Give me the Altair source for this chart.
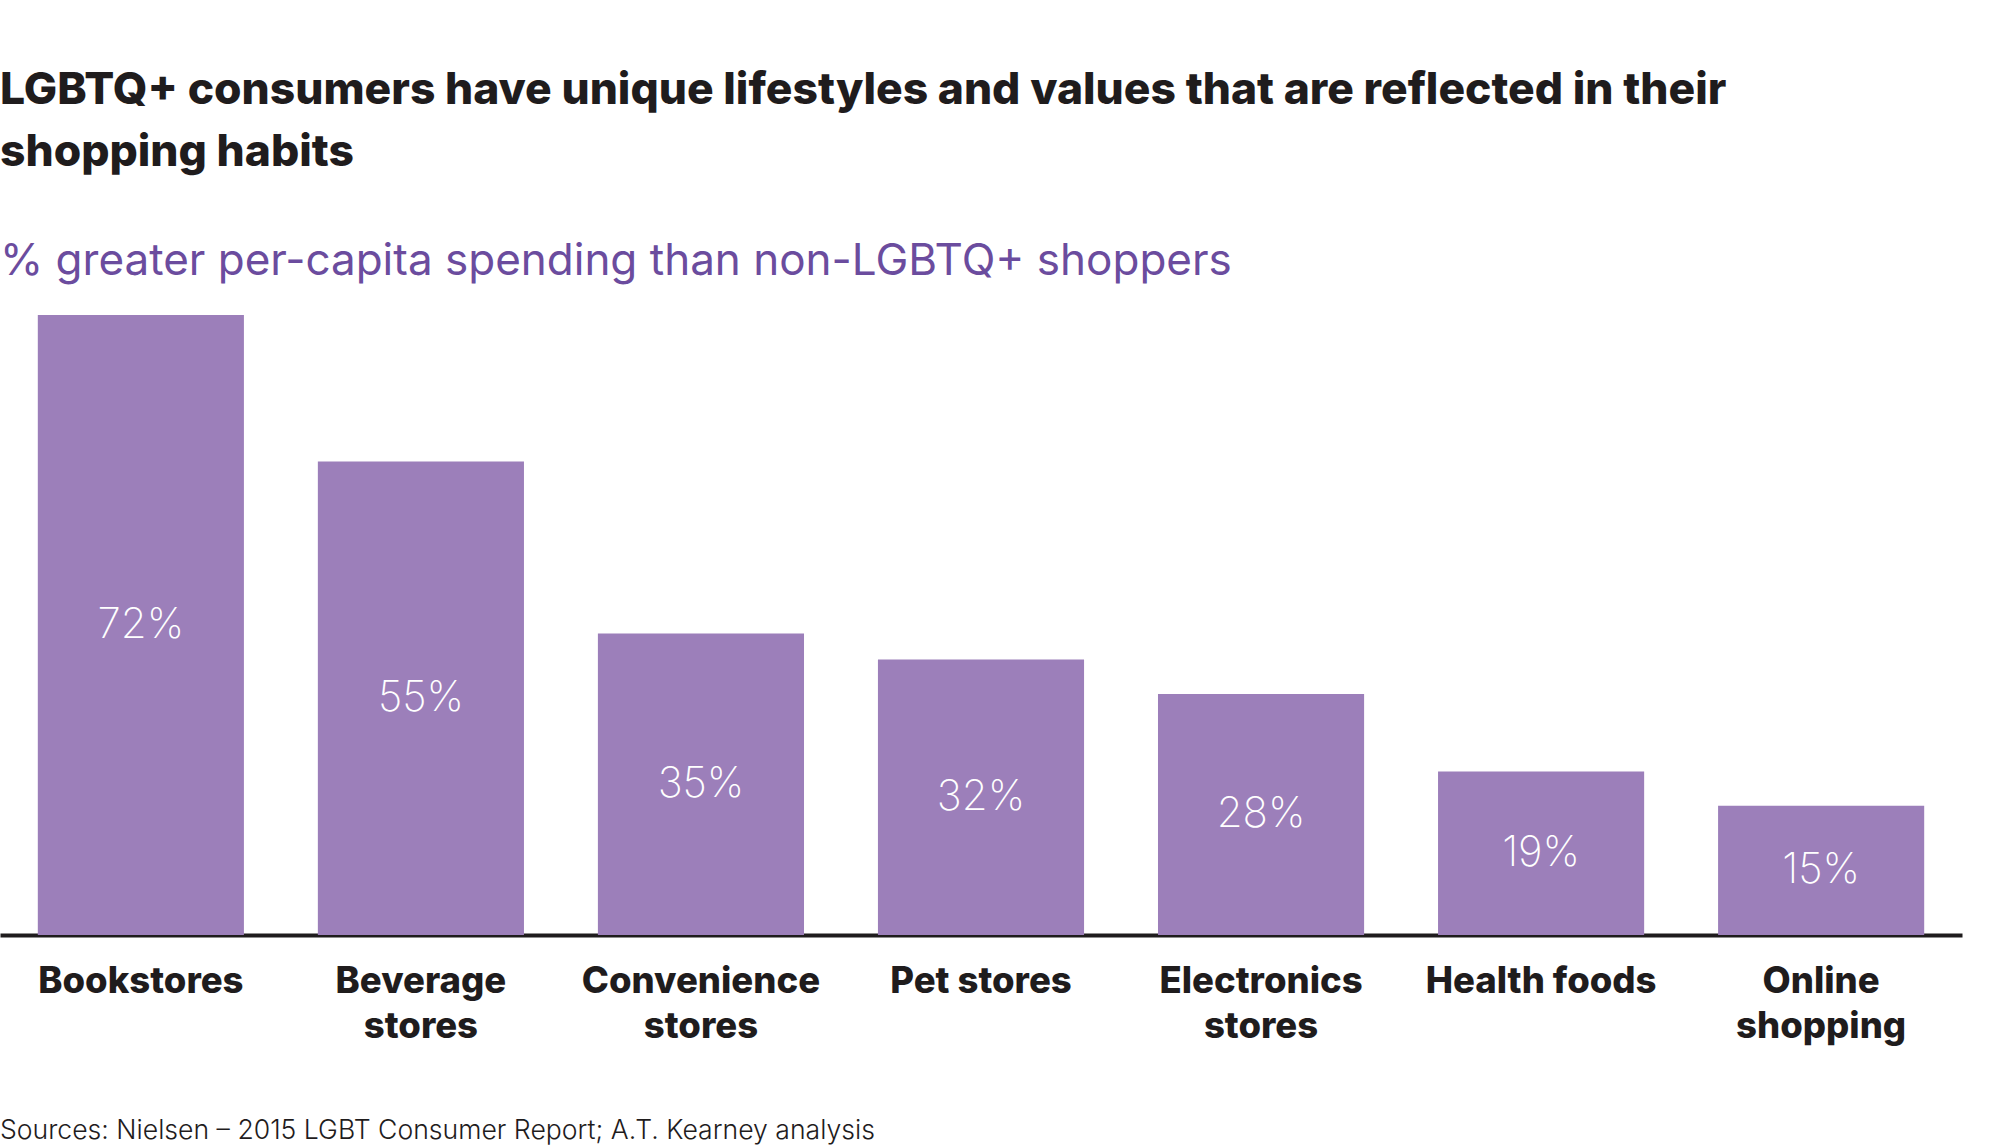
import altair as alt
import pandas as pd

# Store categories (line breaks mark where axis labels wrap) and spending uplift in %
categories = [
    "Bookstores",
    "Beverage\nstores",
    "Convenience\nstores",
    "Pet stores",
    "Electronics\nstores",
    "Health foods",
    "Online\nshopping",
]
uplift = [72, 55, 35, 32, 28, 19, 15]

title_lines = [
    "LGBTQ+ consumers have unique lifestyles and values that are reflected in their",
    "shopping habits",
]
subtitle_text = "% greater per-capita spending than non-LGBTQ+ shoppers"
source_text = "Sources: Nielsen \u2013 2015 LGBT Consumer Report; A.T. Kearney analysis"

BAR = "#9C7FBA"
PURPLE = "#6B4C9E"
INK = "#1F1C1D"

df = pd.DataFrame({"category": categories, "uplift": uplift})

x_enc = alt.X(
    "category:N",
    sort=None,
    scale=alt.Scale(paddingInner=0.264, paddingOuter=0.135),
    axis=alt.Axis(
        title=None,
        labelAngle=0,
        labelExpr="split(datum.label, '\\n')",
        labelFont="Inter",
        labelFontSize=36.5,
        labelFontWeight=800,
        labelColor=INK,
        labelLineHeight=45,
        labelPadding=28,
        labelBaseline="top",
        labelOverlap=False,
        labelLimit=0,
        ticks=False,
        domainColor=INK,
        domainWidth=4,
        grid=False,
    ),
)

y_scale = alt.Scale(domain=[0, 72], nice=False, zero=True)

bars = (
    alt.Chart(df)
    .mark_bar(color=BAR)
    .encode(x=x_enc, y=alt.Y("uplift:Q", scale=y_scale, axis=None))
)

labels = (
    alt.Chart(df)
    .transform_calculate(mid="datum.uplift / 2", label="datum.uplift + '%'")
    .mark_text(
        color="white",
        font="Inter",
        fontSize=42,
        fontWeight=200,
        baseline="middle",
        align="center",
    )
    .encode(
        x=alt.X("category:N", sort=None),
        y=alt.Y("mid:Q", scale=y_scale, axis=None),
        text="label:N",
    )
)

# Source note sits below the category labels, flush with the left edge
source = (
    alt.Chart(pd.DataFrame({"note": [source_text]}))
    .mark_text(
        font="Inter",
        fontSize=26.6,
        fontWeight=300,
        color=INK,
        align="left",
        baseline="alphabetic",
    )
    .encode(x=alt.value(0), y=alt.value(824), text="note:N")
)

chart = (
    alt.layer(bars, labels, source)
    .properties(
        width=1962,
        height=620,
        padding={"left": 0, "top": 315, "right": 38, "bottom": 213},
        autosize=alt.AutoSizeParams(type="none"),
        title=alt.TitleParams(
            text=title_lines,
            subtitle=subtitle_text,
            anchor="start",
            frame="group",
            font="Inter",
            fontSize=44.4,
            fontWeight=800,
            color=INK,
            lineHeight=62,
            subtitleFont="Inter",
            subtitleFontSize=44,
            subtitleFontWeight=400,
            subtitleColor=PURPLE,
            subtitlePadding=65,
            offset=30,
        ),
    )
    .configure(background="white")
    .configure_view(strokeWidth=0)
)

chart.save("out.html", embed_options={"renderer": "svg", "actions": False})
